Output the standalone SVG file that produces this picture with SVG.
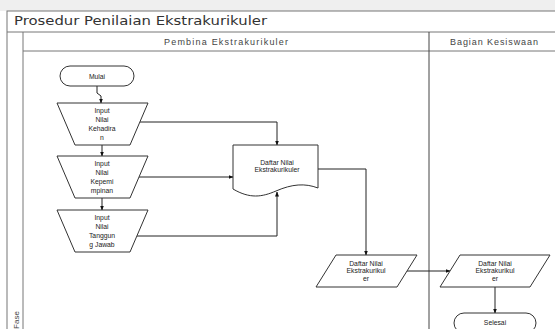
<svg xmlns="http://www.w3.org/2000/svg" width="555" height="329" viewBox="0 0 555 329">
<defs>
<marker id="ah" viewBox="0 0 10 10" refX="9" refY="5" markerWidth="5" markerHeight="5" orient="auto" markerUnits="userSpaceOnUse"><path d="M0,1 L10,5 L0,9 Z" fill="#111"/></marker>
</defs>
<style>
.frame{fill:none;stroke:#777;stroke-width:1}
.shape{fill:#fff;stroke:#333;stroke-width:1}
.flow{fill:none;stroke:#222;stroke-width:1;marker-end:url(#ah)}
.t{font-family:"Liberation Sans",Arial,sans-serif;font-size:6.8px;fill:#222;text-anchor:middle;dominant-baseline:central}
.h{font-family:"Liberation Sans",Arial,sans-serif;font-size:9px;fill:#444;text-anchor:middle;dominant-baseline:central}
.title{font-family:"DejaVu Sans",Verdana,sans-serif;font-size:12.5px;fill:#333}
</style>
<rect x="0" y="0" width="555" height="329" fill="#fff"/>
<rect x="0" y="0" width="555" height="11" fill="#efefef"/>
<g id="pool">
<rect class="frame" x="7" y="11" width="560" height="330"/>
<line class="frame" x1="7" y1="32" x2="555" y2="32"/>
<line class="frame" x1="23" y1="32" x2="23" y2="329"/>
<line class="frame" x1="23" y1="51" x2="555" y2="51"/>
<line class="frame" x1="429" y1="32" x2="429" y2="329" style="stroke:#444"/>
<text class="title" x="14" y="25" textLength="253" lengthAdjust="spacingAndGlyphs">Prosedur Penilaian Ekstrakurikuler</text>
<text class="h" x="226" y="42" textLength="124" lengthAdjust="spacing">Pembina Ekstrakurikuler</text>
<text class="h" x="494" y="42" textLength="88" lengthAdjust="spacing">Bagian Kesiswaan</text>
<text class="h" x="0" y="0" transform="translate(16,320) rotate(-90)" style="font-size:8px">Fase</text>
</g>
<g id="connectors">
<path class="flow" d="M97,86 V93 L101,96 V103"/>
<path class="flow" d="M102,145 V156"/>
<path class="flow" d="M102,198 V210"/>
<path class="flow" d="M140,122 H277 V145"/>
<path class="flow" d="M139,177 H233"/>
<path class="flow" d="M137,236 H277 V192"/>
<path class="flow" d="M318,169 H366 V255"/>
<path class="flow" d="M407,271 H450"/>
<path class="flow" d="M495,287 V313"/>
</g>
<g id="mulai">
<rect class="shape" x="60" y="66" width="74" height="20" rx="10"/>
<text class="t" x="97" y="76">Mulai</text>
</g>
<g id="input-kehadiran">
<path class="shape" d="M57,103 H148 L130,145 H75 Z"/>
<text class="t" x="102" y="110">Input</text>
<text class="t" x="102" y="119">Nilai</text>
<text class="t" x="102" y="128">Kehadira</text>
<text class="t" x="102" y="137">n</text>
</g>
<g id="input-kepemimpinan">
<path class="shape" d="M57,156 H148 L130,198 H75 Z"/>
<text class="t" x="102" y="163">Input</text>
<text class="t" x="102" y="172">Nilai</text>
<text class="t" x="102" y="181">Kepemi</text>
<text class="t" x="102" y="190">mpinan</text>
</g>
<g id="input-tanggung-jawab">
<path class="shape" d="M57,210 H148 L130,252 H75 Z"/>
<text class="t" x="102" y="217">Input</text>
<text class="t" x="102" y="226">Nilai</text>
<text class="t" x="102" y="235">Tanggun</text>
<text class="t" x="102" y="244">g Jawab</text>
</g>
<g id="dokumen">
<path class="shape" d="M233,145 H318 V188 C305,183 292,184 276,191 C262,197 250,199 233,189 Z"/>
<text class="t" x="277" y="162">Daftar Nilai</text>
<text class="t" x="277" y="169">Ekstrakurikuler</text>
</g>
<g id="daftar-1">
<path class="shape" d="M336,255 H417 L397,287 H316 Z"/>
<text class="t" x="366" y="263">Daftar Nilai</text>
<text class="t" x="366" y="270">Ekstrakurikul</text>
<text class="t" x="366" y="278">er</text>
</g>
<g id="daftar-2">
<path class="shape" d="M460,255 H550 L530,287 H440 Z"/>
<text class="t" x="495" y="263">Daftar Nilai</text>
<text class="t" x="495" y="270">Ekstrakurikul</text>
<text class="t" x="495" y="278">er</text>
</g>
<g id="selesai">
<rect class="shape" x="454" y="313" width="82" height="20" rx="10"/>
<text class="t" x="495" y="322">Selesai</text>
</g>
</svg>
